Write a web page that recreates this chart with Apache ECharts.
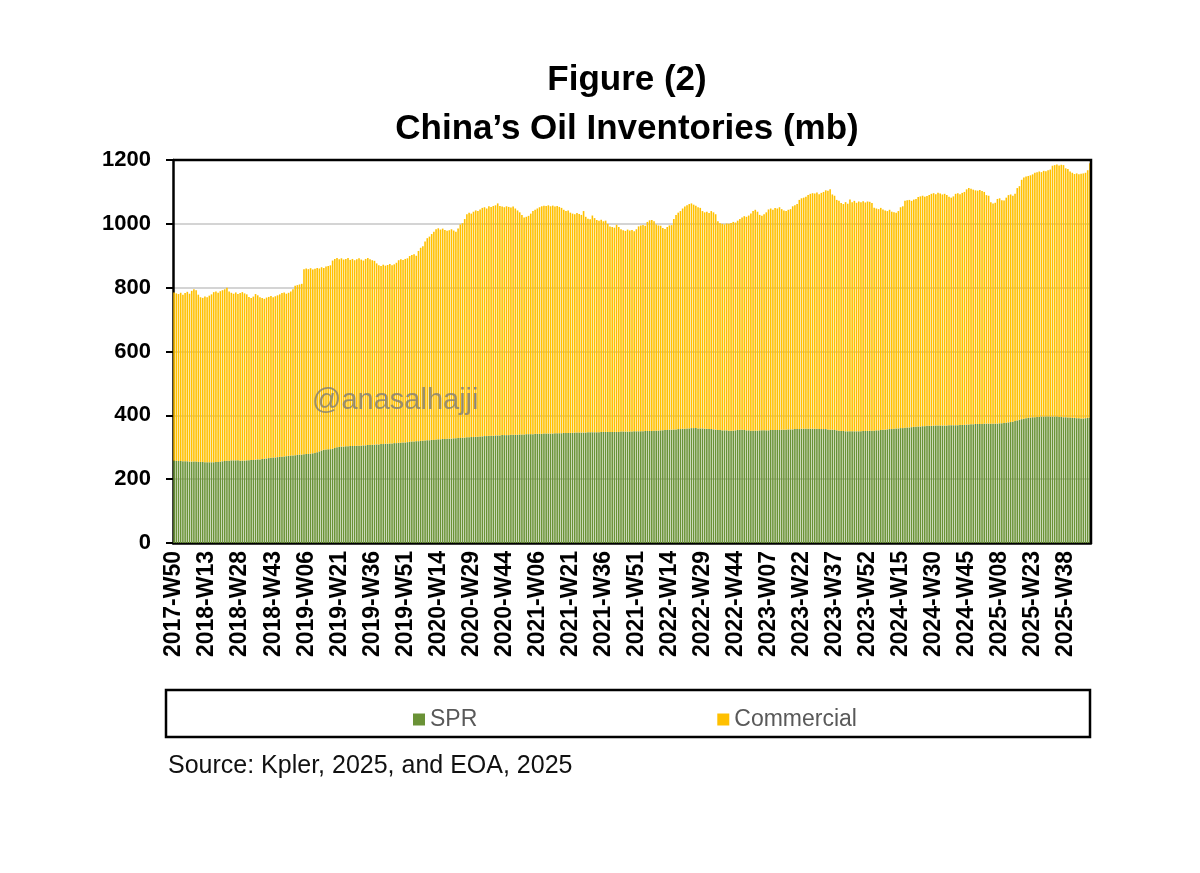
<!DOCTYPE html>
<html>
<head>
<meta charset="utf-8">
<title>China's Oil Inventories</title>
<script src="https://cdn.jsdelivr.net/npm/echarts@6/dist/echarts.min.js"></script>
<style>
  html, body { margin: 0; padding: 0; background: #fff; }
  #main { width: 1200px; height: 873px; }
</style>
</head>
<body>
<div id="main"></div>
<script>
// weekly total inventories (SPR + commercial), mb, from 2017-W50
const total = [
  785, 782, 780, 784, 778, 783, 787, 781, 790, 795,
  792, 778, 770, 768, 772, 770, 775, 779, 786, 788,
  784, 789, 792, 795, 800, 788, 784, 781, 785, 780,
  783, 786, 782, 779, 771, 768, 772, 780, 776, 770,
  768, 765, 769, 771, 774, 770, 773, 776, 779, 783,
  785, 781, 784, 788, 795, 806, 808, 810, 812, 858,
  860, 858, 861, 857, 859, 862, 860, 864, 862, 866,
  868, 870, 885, 890, 893, 889, 892, 888, 890, 893,
  887, 890, 886, 889, 892, 888, 885, 890, 893, 889,
  886, 884, 876, 870, 868, 872, 869, 871, 874, 870,
  873, 878, 886, 889, 887, 890, 892, 899, 902, 905,
  900, 915, 925, 930, 945, 955, 960, 968, 975, 983,
  986, 982, 985, 981, 978, 980, 983, 979, 975, 985,
  998, 1002, 1015, 1030, 1035, 1032, 1038, 1042, 1040, 1045,
  1050, 1052, 1048, 1055, 1053, 1056, 1058, 1064, 1056, 1054,
  1052, 1055, 1053, 1051, 1054, 1048, 1042, 1036, 1028, 1020,
  1022, 1025, 1032, 1040, 1044, 1048, 1052, 1055, 1057, 1056,
  1058, 1055, 1057, 1054, 1056, 1053, 1050, 1044, 1040, 1042,
  1035, 1032, 1030, 1034, 1031, 1028, 1040, 1022, 1016, 1014,
  1026, 1018, 1012, 1010, 1013, 1008, 1010, 1000, 992, 990,
  988, 997, 990, 983, 980, 978, 982, 979, 981, 977,
  983, 992, 995, 996, 994, 1006, 1011, 1012, 1008, 998,
  995, 994, 987, 984, 990, 995, 996, 1015, 1028, 1035,
  1040, 1048, 1054, 1058, 1062, 1064, 1060, 1057, 1052, 1050,
  1040, 1036, 1038, 1034, 1040, 1036, 1030, 1008, 1002, 1000,
  998, 1001, 1000, 1003, 1006, 1004, 1010, 1015, 1020, 1024,
  1022, 1026, 1032, 1040, 1044, 1038, 1028, 1025, 1030, 1036,
  1045, 1048, 1044, 1050, 1048, 1052, 1046, 1042, 1040, 1044,
  1046, 1055, 1058, 1062, 1075, 1080, 1082, 1085, 1090, 1094,
  1096, 1095, 1098, 1093, 1097, 1100, 1105, 1104, 1108, 1092,
  1088, 1075, 1072, 1065, 1062, 1068, 1063, 1076, 1068, 1072,
  1066, 1070, 1068, 1071, 1067, 1070, 1069, 1065, 1050, 1048,
  1046, 1050, 1045, 1042, 1040, 1044, 1038, 1036, 1035, 1040,
  1052, 1055, 1072, 1074, 1075, 1072, 1076, 1078, 1084, 1086,
  1088, 1085, 1087, 1090, 1094, 1096, 1093, 1097, 1095, 1092,
  1094, 1090, 1085, 1082, 1086, 1094, 1096, 1093, 1097, 1100,
  1108, 1112, 1110, 1107, 1105, 1104, 1106, 1103, 1100, 1090,
  1088, 1068, 1064, 1066, 1078, 1080, 1074, 1073, 1082, 1090,
  1092, 1088, 1094, 1112, 1118, 1138, 1145, 1148, 1150, 1152,
  1155, 1160, 1162, 1164, 1162, 1166, 1165, 1168, 1170, 1182,
  1184, 1186, 1183, 1185, 1184, 1174, 1172, 1164, 1160, 1156,
  1158, 1155, 1157, 1158, 1160, 1168, 1190
];

// weekly SPR, mb
const spr = [
  258, 258, 257, 257, 256, 256, 256, 255, 255, 255,
  255, 254, 254, 254, 253, 253, 253, 253, 253, 254,
  254, 255, 256, 257, 258, 258, 259, 259, 259, 259,
  258, 258, 258, 259, 259, 260, 260, 261, 262, 262,
  263, 264, 265, 266, 267, 268, 268, 269, 270, 270,
  271, 272, 273, 274, 274, 275, 276, 277, 277, 278,
  279, 279, 280, 281, 282, 284, 287, 290, 292, 293,
  294, 294, 295, 298, 300, 301, 302, 302, 303, 303,
  304, 304, 304, 305, 305, 305, 306, 306, 307, 307,
  308, 308, 309, 309, 310, 310, 311, 311, 312, 312,
  313, 313, 314, 314, 315, 315, 316, 317, 318, 318,
  319, 319, 320, 320, 321, 322, 322, 323, 323, 324,
  325, 325, 326, 326, 327, 327, 327, 328, 328, 329,
  329, 330, 330, 331, 331, 332, 332, 333, 333, 334,
  334, 335, 335, 336, 336, 336, 337, 337, 337, 338,
  338, 338, 338, 339, 339, 339, 339, 340, 340, 340,
  341, 341, 341, 341, 342, 342, 342, 342, 343, 343,
  343, 343, 343, 344, 344, 344, 344, 345, 345, 345,
  345, 345, 346, 346, 346, 346, 346, 346, 347, 347,
  347, 347, 347, 347, 348, 348, 348, 348, 348, 348,
  348, 348, 348, 349, 349, 349, 349, 349, 349, 350,
  350, 350, 350, 350, 351, 351, 351, 351, 352, 352,
  352, 353, 353, 354, 354, 355, 355, 356, 356, 357,
  357, 358, 358, 359, 359, 360, 360, 360, 359, 359,
  359, 358, 358, 357, 357, 356, 355, 354, 354, 353,
  353, 353, 352, 352, 352, 353, 354, 355, 355, 354,
  353, 353, 352, 352, 352, 352, 353, 353, 353, 353,
  353, 354, 354, 354, 354, 354, 355, 355, 355, 356,
  356, 356, 357, 357, 357, 358, 358, 358, 358, 358,
  358, 358, 358, 357, 357, 357, 357, 356, 355, 355,
  354, 353, 352, 351, 351, 350, 350, 350, 350, 350,
  350, 350, 350, 351, 351, 351, 352, 352, 352, 353,
  353, 354, 355, 355, 356, 357, 357, 358, 359, 359,
  360, 360, 361, 362, 362, 363, 364, 364, 365, 365,
  366, 366, 367, 367, 367, 368, 368, 368, 368, 368,
  368, 368, 369, 369, 369, 369, 369, 370, 370, 370,
  371, 371, 372, 372, 373, 373, 373, 373, 374, 374,
  374, 374, 374, 374, 374, 375, 375, 376, 377, 378,
  379, 380, 382, 384, 386, 388, 389, 391, 392, 393,
  394, 394, 395, 395, 396, 396, 396, 396, 396, 396,
  396, 396, 395, 395, 394, 394, 393, 393, 392, 392,
  391, 391, 390, 390, 391, 392, 393
];

// commercial = total minus SPR
const commercial = total.map((v, i) => v - spr[i]);

// ISO week category labels, starting 2017-W50
const startYear = 2017;
const startWeek = 50;

function weeksInYear(y) {
  const jan1 = new Date(Date.UTC(y, 0, 1)).getUTCDay();
  const leap = (y % 4 === 0 && y % 100 !== 0) || y % 400 === 0;
  return (jan1 === 4 || (leap && jan1 === 3)) ? 53 : 52;
}

const weeks = [];
let yr = startYear, wk = startWeek;
for (let i = 0; i < total.length; i++) {
  weeks.push(yr + '-W' + String(wk).padStart(2, '0'));
  wk++;
  if (wk > weeksInYear(yr)) { wk = 1; yr++; }
}

const chart = echarts.init(document.getElementById('main'));

const option = {
  backgroundColor: '#fff',
  animation: false,
  grid: {
    left: 173, right: 109, top: 160, bottom: 330
  },
  legend: {
    left: 408, top: 703,
    itemWidth: 12, itemHeight: 12, itemGap: 240,
    icon: 'rect',
    textStyle: { fontFamily: 'Liberation Sans Narrow, Liberation Sans', fontSize: 23, color: '#595959' },
    data: ['SPR', 'Commercial']
  },
  xAxis: {
    type: 'category',
    data: weeks,
    axisLine: { lineStyle: { color: '#000', width: 2.5 } },
    axisTick: { interval: 14, alignWithLabel: true, length: 7, lineStyle: { color: '#000', width: 2 } },
    axisLabel: {
      interval: 14, rotate: 90, margin: 8,
      fontFamily: 'Liberation Sans', fontWeight: 'bold', fontSize: 23, color: '#000'
    }
  },
  yAxis: {
    type: 'value',
    min: 0, max: 1200, interval: 200,
    axisLine: { show: true, lineStyle: { color: '#000', width: 2.5 } },
    axisTick: { show: true, length: 7, lineStyle: { color: '#000', width: 2 } },
    axisLabel: {
      margin: 22, fontFamily: 'Liberation Sans', fontWeight: 'bold', fontSize: 22, color: '#000',
      formatter: v => String(v)
    },
    splitLine: { lineStyle: { color: '#d4d4d4', width: 2 } }
  },
  series: [
    {
      name: 'SPR', type: 'bar', stack: 'inv', data: spr,
      large: false, barCategoryGap: '28%',
      itemStyle: { color: '#6a9236' }
    },
    {
      name: 'Commercial', type: 'bar', stack: 'inv', data: commercial,
      large: false, barCategoryGap: '28%',
      itemStyle: { color: '#ffc000' }
    }
  ],
  graphic: [
    { type: 'text', x: 627, y: 80, style: { text: 'Figure (2)', font: 'bold 35px "Liberation Sans"', fill: '#000', textAlign: 'center', textVerticalAlign: 'middle' } },
    { type: 'text', x: 627, y: 129, style: { text: 'China’s Oil Inventories (mb)', font: 'bold 35px "Liberation Sans"', fill: '#000', textAlign: 'center', textVerticalAlign: 'middle' } },
    { type: 'text', x: 312, y: 401, z: 10, style: { text: '@anasalhajji', font: '29px "Liberation Sans"', fill: 'rgba(120,120,120,0.75)', textVerticalAlign: 'middle' } },
    // plot frame: top and right edges
    { type: 'polyline', z: 20, shape: { points: [[173, 160], [1091, 160], [1091, 543]] }, style: { fill: 'none', stroke: '#000', lineWidth: 2.5 } },
    { type: 'rect', shape: { x: 166, y: 690, width: 924, height: 47 }, style: { fill: 'none', stroke: '#000', lineWidth: 2.5 } },
    { type: 'text', x: 168, y: 766, style: { text: 'Source: Kpler, 2025, and EOA, 2025', font: '25px "Liberation Sans"', fill: '#111', textVerticalAlign: 'middle' } }
  ]
};

chart.setOption(option);
</script>
</body>
</html>
